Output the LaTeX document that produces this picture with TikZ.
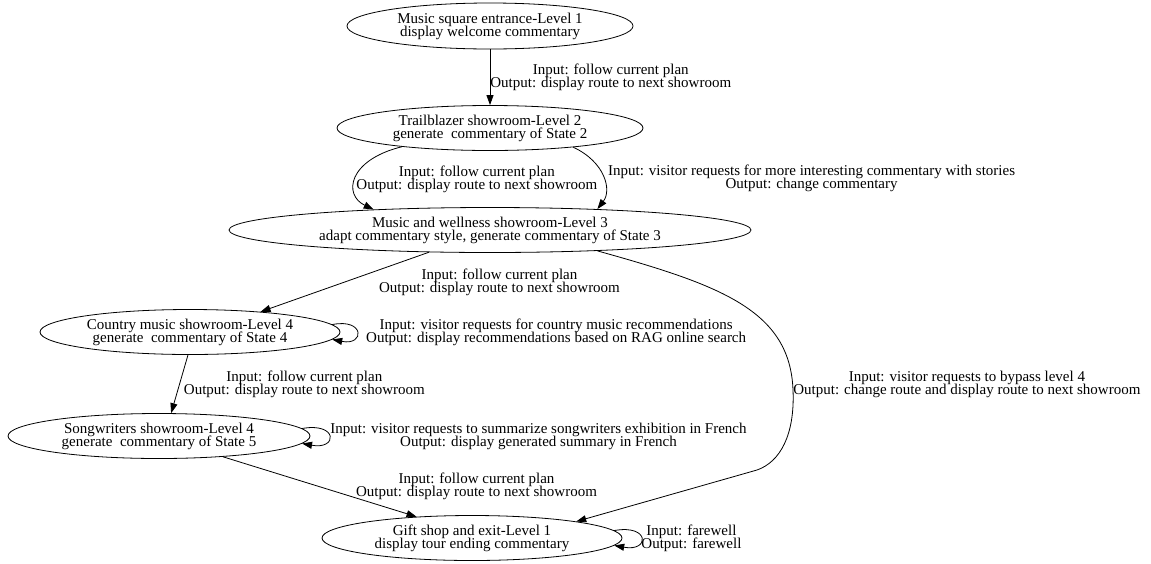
\documentclass[tikz,border=0pt]{standalone}
\usepackage{fontspec}
\setmainfont{Liberation Serif}
\usepackage{tikz}
\usetikzlibrary{arrows.meta, shapes.geometric}
\lineskiplimit=-20pt

\begin{document}
\begin{tikzpicture}[x=1pt, y=-1pt,
      state/.style={draw, ellipse, line width=0.8pt, inner sep=0pt, minimum height=45pt},
      txt/.style={font=\fontsize{15}{13}\selectfont, align=center, inner sep=0pt},
      arr/.style={-{Triangle[length=10pt, width=7pt]}, line width=0.8pt}
    ]
      \useasboundingbox (0,0) rectangle (1151,563);

      \node[state, minimum width=286pt, minimum height=46pt, label={[txt]center:{Music square entrance-Level 1\\display welcome commentary}}] (entrance) at (490,26) {};
      \node[state, minimum width=306pt, label={[txt]center:{Trailblazer showroom-Level 2\\generate~ commentary of State 2}}] (trail) at (490,128) {};
      \node[state, minimum width=522pt, label={[txt]center:{Music and wellness showroom-Level 3\\adapt commentary style, generate commentary of State 3}}] (wellness) at (490,230) {};
      \node[state, minimum width=300pt, label={[txt]center:{Country music showroom-Level 4\\generate~ commentary of State 4}}] (country) at (190,332) {};
      \node[state, minimum width=302pt, label={[txt]center:{Songwriters showroom-Level 4\\generate~ commentary of State 5}}] (song) at (159,436) {};
      \node[state, minimum width=300pt, label={[txt]center:{Gift shop and exit-Level 1\\display tour ending commentary}}] (gift) at (472,538) {};

      \draw[arr] (entrance.south) -- node[txt, right] {Input: follow current plan\\Output: display route to next showroom} (trail.north);
      \draw[arr] (trail.192) .. controls (348,160) and (343,195) .. node[txt, right, yshift=-2pt] {Input: follow current plan\\Output: display route to next showroom} (wellness.170);
      \draw[arr] (trail.347) .. controls (605,162) and (612,190) .. node[txt, right=5pt, yshift=-2pt] {Input: visitor requests for more interesting commentary with stories\\Output: change commentary} (wellness.11);
      \draw[arr] (wellness.200) -- node[txt, right=34pt] {Input: follow current plan\\Output: display route to next showroom} (country.16);
      \draw[arr] (wellness.349) .. controls (720,285) and (790,310) .. (793,390) node[txt, right, yshift=6pt] {Input: visitor requests to bypass level 4\\Output: change route and display route to next showroom}
        .. controls (795,435) and (780,462) .. (757,470) -- (gift.9);
      \draw[arr] (country.3) .. controls (365,318) and (365,346) .. node[txt, right=9pt] {Input: visitor requests for country music recommendations\\Output: display recommendations based on RAG online search} (country.-3);
      \draw[arr] (country.-95) -- node[txt, right=4pt] {Input: follow current plan\\Output: display route to next showroom} (song.62);
      \draw[arr] (song.3) .. controls (338,422) and (338,450) .. node[txt, right=1pt] {Input: visitor requests to summarize songwriters exhibition in French\\Output: display generated summary in French} (song.-3);
      \draw[arr] (song.342) -- node[txt, right=36pt] {Input: follow current plan\\Output: display route to next showroom} (gift.159);
      \draw[arr] (gift.3) .. controls (650,524) and (650,552) .. node[txt, right=0pt] {Input: farewell\\Output: farewell} (gift.-3);
    \end{tikzpicture}
\end{document}
